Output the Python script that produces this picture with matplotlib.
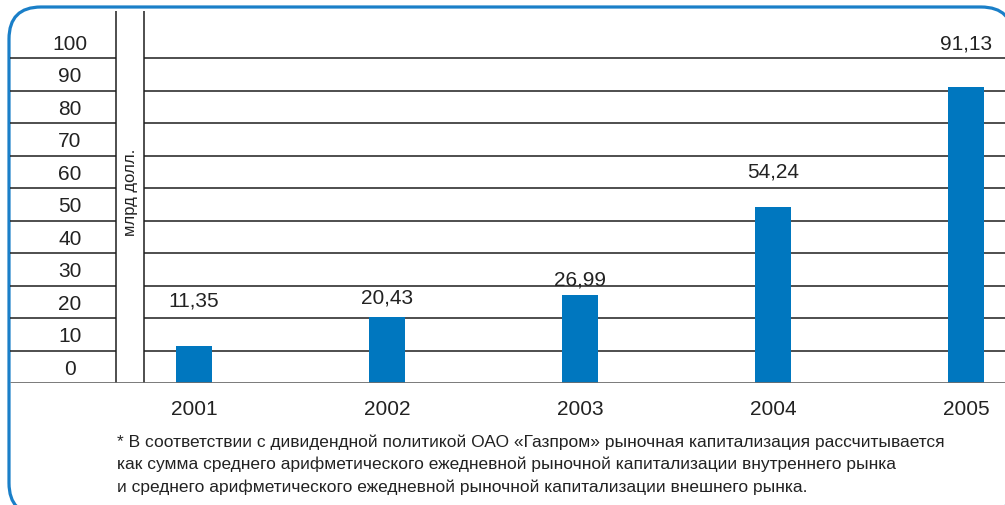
"""
 Title:         Market capitalisation chart
 Description:   Bar chart of capitalisation by year, with boxed frame
"""

# Libraries
import matplotlib
matplotlib.use("Agg")
import matplotlib.pyplot as plt
from matplotlib.patches import FancyBboxPatch

# Data
YEARS        = ["2001", "2002", "2003", "2004", "2005"]
VALUES       = [11.35, 20.43, 26.99, 54.24, 91.13]
VALUE_LABELS = ["11,35", "20,43", "26,99", "54,24", "91,13"]
LABEL_Y      = [25.5, 26.5, 32.0, 65.2, 104.6]
GRID_VALUES  = [10, 20, 30, 40, 50, 60, 70, 80, 90, 100]
TICK_LABELS  = ["0", "10", "20", "30", "40", "50", "60", "70", "80", "90", "100"]
UNIT_LABEL   = "млрд долл."
FOOTNOTE     = ("* В соответствии с дивидендной политикой ОАО «Газпром» рыночная капитализация рассчитывается\n"
                "как сумма среднего арифметического ежедневной рыночной капитализации внутреннего рынка\n"
                "и среднего арифметического ежедневной рыночной капитализации внешнего рынка.")

# Constants
W, H        = 1005, 506
BAR_COLOUR  = "#0077bf"
BOX_COLOUR  = "#1a7fc8"
LINE_COLOUR = "#1e1e1e"
TEXT_COLOUR = "#222222"
FONT        = ["Liberation Sans", "DejaVu Sans"]

plt.rcParams["font.family"] = FONT

fig = plt.figure(figsize=(W/100, H/100), dpi=100)

# Background frame in pixel coordinates
bg = fig.add_axes([0, 0, 1, 1], zorder=0)
bg.set_xlim(0, W)
bg.set_ylim(H, 0)
bg.axis("off")
bg.add_patch(FancyBboxPatch((9, 8), 1004, 508, boxstyle="round,pad=0,rounding_size=32",
                            facecolor="white", edgecolor=BOX_COLOUR, linewidth=2.3, clip_on=True))

# Main chart axes (pixel box 10..1005 x 12..384)
ax = fig.add_axes([10/W, (H-384)/H, 995/W, 372/H], zorder=1)
ax.patch.set_alpha(0)
x_left  = (10 - 194) / 193
x_right = (1005 - 194) / 193
x_v1    = (116 - 194) / 193
x_v2    = (144 - 194) / 193
ax.set_xlim(x_left, x_right)
ax.set_ylim(0, 114.5)
ax.axis("off")

# Grid lines, broken by the unit column
ax.hlines(GRID_VALUES, x_left, x_v1, color=LINE_COLOUR, linewidth=1.1)
ax.hlines(GRID_VALUES, x_v2, x_right, color=LINE_COLOUR, linewidth=1.1)
ax.vlines([x_v1, x_v2], 0, 114.5, color=LINE_COLOUR, linewidth=1.1)
ax.hlines([0], x_left, x_right, color="#6e6e6e", linewidth=2.0, zorder=3)

# Bars
xs = list(range(len(YEARS)))
ax.bar(xs, VALUES, width=0.187, color=BAR_COLOUR, zorder=2)

# Tick labels sit inside the cells
x_tick = (70 - 194) / 193
for i, lab in enumerate(TICK_LABELS):
    ax.text(x_tick, i*10 + 4.5, lab, ha="center", va="center", fontsize=15, color=TEXT_COLOUR)

# Unit label in the narrow column
ax.text((x_v1 + x_v2)/2, 59, UNIT_LABEL, rotation=90, ha="center", va="center",
        fontsize=12, color=TEXT_COLOUR)

# Value labels and year labels
for x, lab, ly in zip(xs, VALUE_LABELS, LABEL_Y):
    ax.text(x, ly, lab, ha="center", va="center", fontsize=15, color=TEXT_COLOUR, zorder=4)
for x, yr in zip(xs, YEARS):
    ax.text(x, -8, yr, ha="center", va="center", fontsize=15, color=TEXT_COLOUR, clip_on=False)

# Footnote
fig.text(117/W, 1 - 434/H, FOOTNOTE, ha="left", va="top", fontsize=12.5,
         color=TEXT_COLOUR, linespacing=1.58)

fig.savefig("out.png", dpi=100)
